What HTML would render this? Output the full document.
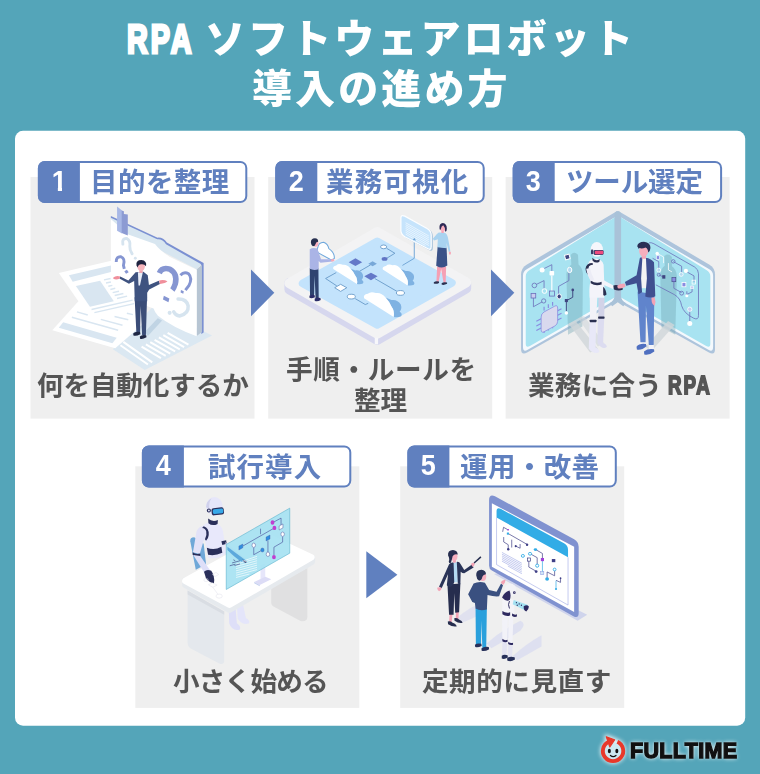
<!DOCTYPE html>
<html lang="ja">
<head>
<meta charset="utf-8">
<title>RPA ソフトウェアロボット 導入の進め方</title>
<style>
html,body{margin:0;padding:0;}
body{width:760px;height:774px;overflow:hidden;background:#54a5b9;position:relative;
 font-family:"Liberation Sans","Noto Sans CJK JP",sans-serif;}
.abs{position:absolute;}
.title,.lbl,.cap,.logo{will-change:transform;}
.title{position:absolute;color:#fff;font-weight:900;font-size:40px;line-height:49px;white-space:nowrap;letter-spacing:3.1px;}
.rpa{position:absolute;color:#fff;font-weight:700;font-size:40px;line-height:49px;white-space:nowrap;letter-spacing:4px;transform:scaleX(.72);transform-origin:left center;-webkit-text-stroke:3px #fff;}
.num{position:absolute;width:42px;height:42.4px;color:#fff;font-weight:700;font-size:30px;line-height:40.2px;text-align:center;}
.num span{display:inline-block;transform:scaleX(.9);}
.num span.one{clip-path:polygon(0 0,100% 0,100% 27.2px,11.3px 27.2px,11.3px 100%,6.7px 100%,6.7px 27.2px,0 27.2px);}
.lbl{position:absolute;color:#6080bf;font-weight:700;font-size:27.5px;line-height:40px;white-space:nowrap;}
.cap{position:absolute;color:#555555;font-weight:700;font-size:26.6px;line-height:40px;white-space:nowrap;}
.rpa2{position:absolute;color:#555555;font-weight:700;font-size:26px;line-height:40px;white-space:nowrap;letter-spacing:2.6px;transform:scaleX(.72);transform-origin:left center;-webkit-text-stroke:1.9px #555555;}
.ill{position:absolute;left:0;top:0;width:760px;height:774px;overflow:visible;}
.logo{position:absolute;left:630px;top:738.5px;color:#111;font-weight:700;font-size:21.5px;line-height:25px;white-space:nowrap;letter-spacing:.35px;-webkit-text-stroke:1.3px #111;text-shadow:0 0 2px rgba(255,255,255,.9),0 0 4px rgba(255,255,255,.8),0 0 5px rgba(255,255,255,.6);}
</style>
</head>
<body>
<div class="rpa" style="left:127px;top:15px">RPA</div>
<div class="title" style="left:205px;top:15px">ソフトウェアロボット</div>
<div class="title" style="left:252px;top:65px">導入の進め方</div>

<svg class="ill" viewBox="0 0 760 774">
<rect x="15" y="130.8" width="730.2" height="594.9" rx="8" fill="#fff"/>
<rect x="30.5" y="177" width="224" height="241.6" fill="#efefef"/>
<rect x="268.2" y="177" width="224" height="241.6" fill="#efefef"/>
<rect x="505.6" y="177" width="224" height="241.6" fill="#efefef"/>
<rect x="135.3" y="466.3" width="224" height="241.6" fill="#efefef"/>
<rect x="400.2" y="466.3" width="224" height="241.6" fill="#efefef"/>
<g id="ill1">
<!-- bottom right light blue page : zoom C origin(110,290) s=6.909 -->
<g transform="translate(110,290) scale(0.144737)">
<polygon points="20,410 300,110 705,315 240,552" fill="#dbe8f2"/>
<g stroke="#fff" stroke-width="14" fill="none">
<path d="M92,358 L292,500 M72,382 L262,515 M218,392 L352,470 M248,376 L385,455 M278,360 L416,440 M308,344 L450,424 M338,328 L482,410 M368,312 L512,394 M398,296 L542,378"/>
</g>
</g>
<!-- panel : zoom D origin(100,200) s=6.909 -->
<g transform="translate(100,200) scale(0.144737)">
<path d="M75,110 L398,260 Q435,256 462,294 L716,436 L716,915 L700,925 L700,452 L456,312 Q432,274 395,278 L75,128 Z" fill="#7b90d2"/>
<polygon points="668,478 704,448 704,912 668,940" fill="#b7c5d3"/>
<path d="M75,122 L395,272 Q432,268 456,306 L700,444 L668,478 L380,330 L75,180 Z" fill="#d8e6f0"/>
<path d="M75,132 L195,238 L380,304 Q410,345 480,392 L668,482 L668,942 Q500,880 400,800 Q380,780 370,750 L75,640 Z" fill="#fff"/>
<!-- bookmark -->
<polygon points="118,45 152,72 152,232 118,212" fill="#a8b8e6"/>
<polygon points="150,72 165,78 165,96 192,100 192,246 150,228" fill="#8c9bd3"/>
</g>
<!-- papers : zoom B origin(40,255) s=6.909 -->
<g transform="translate(40,255) scale(0.144737)">
<polygon points="130,125 500,38 720,360 372,420 265,320" fill="#fff"/>
<polygon points="85,520 265,320 700,372 720,470 520,645" fill="#fff"/>
<polygon points="200,140 490,72 490,118 226,184" fill="#d9e6f1"/>
<polygon points="248,215 415,178 510,320 345,358" fill="#d9e6f1"/>
<g stroke="#d9e6f1" stroke-width="10" fill="none">
<path d="M442,172 L488,162 M456,194 L490,186 M472,216 L500,210 M486,238 L520,230 M502,260 L546,250 M516,280 L576,266 M532,300 L602,284"/>
<path d="M356,376 L640,312 M376,398 L650,336"/>
<path d="M255,393 L330,415 M515,425 L610,447 M600,402 L642,412 M220,430 L540,520 M420,445 L570,485"/>
</g>
<polygon points="160,465 530,572 500,610 130,502" fill="#d9e6f1"/>
</g>
<!-- question marks : zoom D -->
<g transform="translate(100,200) scale(0.144737)">
<g fill="none" stroke="#d6e4ef" stroke-width="20" stroke-linecap="round">
<path d="M158,305 Q150,262 185,266 Q212,280 206,320 Q204,345 222,372"/>
</g>
<circle cx="244" cy="402" r="10" fill="#d6e4ef"/>
<g fill="none" stroke="#8696d2">
<path d="M112,428 Q112,388 145,392 Q176,404 162,452 L168,476" stroke-width="20"/>
<path d="M410,505 Q428,462 482,478 Q538,510 520,580 Q510,610 500,622" stroke-width="38"/>
<path d="M556,520 Q580,492 612,510 Q640,540 615,590 L590,622" stroke-width="20"/>
</g>
<polygon points="168,492 186,482 198,500 180,510" fill="#8696d2"/>
</g>
<g transform="translate(110,290) scale(0.144737)">
<polygon points="372,40 410,58 404,84 366,66" fill="#8696d2"/>
<polygon points="490,0 510,8 506,26 488,18" fill="#8696d2"/>
<path d="M470,62 Q530,60 540,110 Q545,165 480,180 Q455,178 440,150" fill="none" stroke="#d6e4ef" stroke-width="24" stroke-linecap="round"/>
<circle cx="412" cy="158" r="14" fill="#d6e4ef"/>
<!-- man shadow -->
<polygon points="240,290 330,195 360,210 262,318" fill="#b9cee0" opacity=".8"/>
<!-- legs -->
<path d="M170,50 L182,290 L208,290 L212,110 L222,312 L248,312 L256,50 Z" fill="#3b4d78"/>
<path d="M160,300 Q172,284 208,290 L210,306 Q178,322 162,314 Z" fill="#1f2744"/>
<path d="M206,322 Q218,306 250,312 L252,326 Q222,344 208,336 Z" fill="#1f2744"/>
</g>
<!-- man upper : zoom D -->
<g transform="translate(100,200) scale(0.144737)">
<path d="M140,528 L196,556 L246,500 L300,496 L330,520 L338,588 L406,558 L414,580 L340,618 L326,640 L326,700 L240,700 L236,560 L200,578 L134,542 Z" fill="#3f5380"/>
<polygon points="262,500 296,500 276,590 266,590" fill="#e9eef8"/>
<path d="M92,536 Q110,518 140,528 L134,544 Q112,554 92,544 Z" fill="#f08f9b"/>
<path d="M408,556 Q440,546 466,562 Q452,578 414,580 Z" fill="#f08f9b"/>
<rect x="272" y="480" width="22" height="24" fill="#f3a4ae"/>
<ellipse cx="284" cy="460" rx="26" ry="32" fill="#f7b5bd"/>
<path d="M252,452 Q246,414 286,414 Q326,418 318,458 Q306,440 284,444 Q266,444 260,466 Z" fill="#1f2440"/>
</g>
</g>
<g id="ill2">
<!-- zoom Z2 origin(275,205) s=3.619 -->
<g transform="translate(275,205) scale(0.276316)">
<path d="M52,306 L370,488 L692,302 L692,282 L52,282 Z" fill="#d6d7ee" stroke="#d6d7ee" stroke-width="36" stroke-linejoin="round"/>
<path d="M52,283 L370,98 L692,280 L370,466 Z" fill="#f3f3f4" stroke="#f3f3f4" stroke-width="36" stroke-linejoin="round"/>
<rect x="361" y="480" width="12" height="24" fill="#f7f7fa"/>
<path d="M100,284 L370,132 L640,282 L370,434 Z" fill="#c3e3fc" stroke="#c3e3fc" stroke-width="28" stroke-linejoin="round"/>
</g>
<!-- flow: zoom origin(325,240) s=8.444 -->
<g transform="translate(325,240) scale(0.118427)">
<g fill="none" stroke="#5f93c4" stroke-width="7">
<path d="M520,70 L590,112 L520,155"/>
<path d="M290,265 L385,210"/>
<path d="M95,275 L5,325 L100,388"/>
<path d="M420,325 L610,435"/>
<path d="M255,495 L340,545 L365,535"/>
</g>
<ellipse cx="495" cy="58" rx="26" ry="16" fill="#fff" stroke="#5f93c4" stroke-width="7"/>
<ellipse cx="222" cy="478" rx="34" ry="20" fill="#fff" stroke="#5f93c4" stroke-width="7"/>
<ellipse cx="637" cy="447" rx="34" ry="20" fill="#fff" stroke="#5f93c4" stroke-width="7"/>
<ellipse cx="503" cy="160" rx="25" ry="16" fill="#6074c4"/>
<polygon points="82,403 132,374 184,403 132,434" fill="#fff" stroke="#5f93c4" stroke-width="7"/>
<polygon points="200,187 257,155 314,187 257,220" fill="#6478c8"/>
<polygon points="332,307 388,276 444,307 388,340" fill="#6478c8"/>
<polygon points="366,200 402,180 438,200 402,222" fill="#78a8d8"/>
<g transform="translate(70,245)">
<path d="M145,-5 Q165,2 185,12 Q225,5 248,42 Q258,72 240,90 Q262,105 250,122 Q230,132 200,127 Q208,85 185,55 Z" fill="#7fb2e2"/>
<path d="M0,0 Q-8,-25 25,-30 Q45,-50 80,-35 Q115,-42 145,-5 Q172,22 185,55 Q208,85 200,127 Z" fill="#fff"/>
</g>
<g transform="translate(488,250) scale(1.05)">
<path d="M145,-5 Q165,2 185,12 Q225,5 248,42 Q258,72 240,90 Q262,105 250,122 Q230,132 200,127 Q208,85 185,55 Z" fill="#7fb2e2"/>
<path d="M0,0 Q-8,-25 25,-30 Q45,-50 80,-35 Q115,-42 145,-5 Q172,22 185,55 Q208,85 200,127 Z" fill="#fff"/>
</g>
<g transform="translate(330,492) scale(1.25)">
<path d="M145,-5 Q165,2 185,12 Q225,5 248,42 Q258,72 240,90 Q262,105 250,122 Q230,132 200,127 Q208,85 185,55 Z" fill="#7fb2e2"/>
<path d="M0,0 Q-8,-25 25,-30 Q45,-50 80,-35 Q115,-42 145,-5 Q172,22 185,55 Q208,85 200,127 Z" fill="#fff"/>
</g>
</g>
<!-- speech panel + woman: zoom origin(390,205) s=8.444 -->
<g transform="translate(390,205) scale(0.118427)">
<path d="M205,285 L205,450 L105,510" fill="none" stroke="#6fa4d6" stroke-width="8"/>
<path d="M100,120 Q98,82 135,100 L325,205 Q362,225 362,262 L362,360 Q362,398 328,380 L135,278 Q100,258 100,222 Z" fill="#a9c4dc"/>
<path d="M92,114 Q90,78 125,94 L313,198 Q348,218 348,254 L348,350 Q348,386 316,368 L125,268 Q92,248 92,214 Z" fill="#c6e4fc" stroke="#fdfeff" stroke-width="10"/>
<g stroke="#fff" stroke-width="5" fill="none"><path d="M132,150 L328,262 M132,166 L328,278 M132,182 L328,294 M132,198 L328,310 M132,214 L328,326 M132,230 L328,342 M132,246 L300,342"/></g>
<polygon points="192,296 205,276 220,300" fill="#6fa4d6"/>
<!-- woman -->
<path d="M398,520 L392,648 L410,650 L432,540 L452,655 L470,658 L474,520 Z" fill="#f5a0b4"/>
<path d="M370,652 Q384,640 414,646 L414,658 Q388,670 370,662 Z" fill="#2b3050"/>
<path d="M436,660 Q450,648 482,654 L482,666 Q454,680 436,672 Z" fill="#2b3050"/>
<path d="M402,352 L478,362 L484,510 Q440,545 390,512 Z" fill="#3a5288"/>
<path d="M412,232 L462,234 Q486,244 492,290 L510,392 L496,396 L478,320 L480,366 L400,356 L404,290 L372,300 L362,284 L396,244 Z" fill="#a9d3f0"/>
<ellipse cx="506" cy="406" rx="9" ry="14" fill="#f7a8b8"/>
<rect x="434" y="212" width="20" height="24" fill="#f5a0b4"/>
<ellipse cx="446" cy="192" rx="24" ry="30" fill="#f9b0c0"/>
<path d="M418,196 Q414,156 446,152 Q480,156 480,200 Q480,224 466,226 Q468,190 450,172 Q434,176 428,206 Q420,216 418,196 Z" fill="#2e2a55"/>
</g>
<!-- man: zoom origin(275,215) s=6.909 -->
<g transform="translate(275,215) scale(0.144737)">
<path d="M240,368 L242,556 L270,560 L274,420 L280,574 L302,578 L300,368 Z" fill="#2f4470"/>
<path d="M238,558 Q250,546 274,554 L276,568 Q252,580 238,572 Z" fill="#2b2d6a"/>
<path d="M274,578 Q288,566 314,574 L316,588 Q290,602 274,592 Z" fill="#2b2d6a"/>
<path d="M296,225 Q300,190 336,188 Q366,200 372,232 Q412,258 410,300 Q400,312 380,306 L300,262 Q286,246 296,225 Z" fill="#fff" stroke="#6fa8dc" stroke-width="7"/>
<path d="M240,236 Q262,222 292,232 L318,306 L396,306 L398,322 L314,330 L302,318 L302,374 Q268,386 240,372 Z" fill="#aab4e6"/>
<ellipse cx="398" cy="313" rx="11" ry="9" fill="#f7a8b8"/>
<ellipse cx="280" cy="196" rx="20" ry="24" fill="#f9b0c0"/>
<path d="M248,192 Q246,160 276,160 Q300,162 298,184 Q284,184 280,200 Q278,216 262,216 Q250,210 248,192 Z" fill="#27304f"/>
</g>
</g>
<g id="ill3">
<!-- screens: zoom Z3 origin(510,205) s=3.619 -->
<g transform="translate(510,205) scale(0.276316)">
<!-- left screen -->
<path d="M40,252 Q40,228 60,216 L388,22 L388,350 L62,534 Q40,546 40,520 Z" fill="#adc4dc"/>
<path d="M47,256 Q47,240 62,232 L384,42 L384,342 L64,524 Q47,534 47,514 Z" fill="#f4f9fd"/>
<path d="M57,258 Q57,244 70,236 L380,44 L380,334 L72,510 Q57,518 57,502 Z" fill="#a8e3f1"/>
<!-- right screen -->
<path d="M742,252 Q742,228 722,216 L392,22 L392,350 L720,534 Q742,546 742,520 Z" fill="#adc4dc"/>
<path d="M735,256 Q735,240 720,232 L396,42 L396,342 L718,524 Q735,534 735,514 Z" fill="#f4f9fd"/>
<path d="M725,258 Q725,244 712,236 L400,44 L400,334 L710,510 Q725,518 725,502 Z" fill="#a8e3f1"/>
<!-- spine -->
<path d="M378,30 Q390,14 402,30 L402,330 Q402,345 420,356 L410,366 Q390,352 390,352 Q390,352 370,366 L360,356 Q378,345 378,330 Z" fill="#a9c2d8"/>
<!-- shadows on screens -->
<path d="M220,180 Q232,165 246,180 L248,215 Q262,225 264,250 L262,440 L210,470 L204,250 Q206,228 222,215 Z" fill="#6fa3b0" opacity=".38"/>
<path d="M558,185 Q572,172 586,188 L586,222 Q602,232 604,258 L598,470 L548,442 L544,250 Q546,230 560,220 Z" fill="#6fa3b0" opacity=".38"/>
<!-- floor shadows -->
<polygon points="212,430 236,418 318,520 290,534" fill="#cfd6da" opacity=".8"/>
<polygon points="248,412 268,402 340,500 318,512" fill="#cfd6da" opacity=".6"/>
<polygon points="572,420 596,434 512,528 490,514" fill="#cfd6da" opacity=".8"/>
</g>
<!-- left circuits: zoom origin(515,205) s=5.16 -->
<g transform="translate(515,205) scale(0.193798)">
<g fill="none" stroke="#6a6cb8" stroke-width="4">
<path d="M150,328 L190,308 L190,340"/>
<path d="M110,410 L150,390 L150,432"/>
<path d="M95,480 L95,525 L140,500"/>
<path d="M278,348 L278,390 L225,420 L225,462"/>
</g>
<path d="M190,364 L190,446" stroke="#fff" stroke-width="6" fill="none"/>
<path d="M298,440 L298,476 L265,494 L265,548" stroke="#3f4580" stroke-width="5" fill="none"/>
<circle cx="140" cy="335" r="13" fill="#fff"/>
<rect x="178" y="340" width="24" height="24" rx="4" fill="#fff"/>
<rect x="178" y="444" width="26" height="26" fill="none" stroke="#6a6cb8" stroke-width="4"/>
<circle cx="100" cy="415" r="12" fill="none" stroke="#6a6cb8" stroke-width="4"/>
<circle cx="152" cy="444" r="12" fill="none" stroke="#fff" stroke-width="5"/>
<rect x="83" y="456" width="24" height="24" fill="#c9cdf0" stroke="#6a6cb8" stroke-width="4"/>
<circle cx="148" cy="495" r="11" fill="none" stroke="#6a6cb8" stroke-width="4"/>
<rect x="258" y="256" width="24" height="24" fill="#3f4580" stroke="#fff" stroke-width="5" transform="rotate(-15 270 268)"/>
<ellipse cx="282" cy="335" rx="11" ry="14" fill="#b5d9f0" stroke="#fff" stroke-width="5"/>
<ellipse cx="228" cy="472" rx="11" ry="13" fill="#3f4580" stroke="#fff" stroke-width="5"/>
<circle cx="298" cy="438" r="7" fill="#3f4580"/>
<rect x="257" y="485" width="16" height="16" fill="#3f4580"/>
<circle cx="265" cy="557" r="9" fill="#fff"/>
<!-- chip -->
<g stroke="#8a8ce0" stroke-width="6" fill="none">
<path d="M150,545 L150,525 M172,532 L172,512 M194,520 L194,500 M215,548 L240,535 M215,572 L240,559 M215,596 L240,583 M110,600 L135,587 M110,624 L135,611 M110,648 L135,635 M150,660 L150,640 M172,648 L172,628 M194,636 L194,616"/>
</g>
<path d="M135,578 Q135,560 150,552 L205,522 Q220,514 220,532 L220,600 Q220,616 206,624 L150,654 Q135,662 135,644 Z" fill="#d9d9ee" stroke="#8a8ce0" stroke-width="4"/>
</g>
<!-- right circuits: zoom origin(620,205) s=5.16 -->
<g transform="translate(620,205) scale(0.193798)">
<g fill="none" stroke="#6a6cb8" stroke-width="4">
<path d="M150,195 Q160,192 175,200 L385,320 Q405,332 405,355 L405,570 Q405,596 380,584 Q330,560 318,520 Q312,480 280,462 L185,412"/>
<path d="M275,292 L318,316 L318,350"/>
<path d="M345,345 L382,366 L382,395"/>
<path d="M200,360 L232,376 M278,390 L278,430 L318,452"/>
<path d="M345,445 L345,468 M372,428 L372,448 L345,462"/>
<path d="M360,545 L360,600"/>
<path d="M168,275 L200,292 L200,330"/>
</g>
<g fill="none" stroke="#fff" stroke-width="4">
<path d="M192,250 L225,268 L225,300 M250,300 L250,335 L268,345"/>
</g>
<circle cx="192" cy="250" r="9" fill="#fff"/>
<circle cx="340" cy="340" r="11" fill="#fff"/>
<circle cx="345" cy="468" r="8" fill="#fff"/>
<circle cx="360" cy="612" r="13" fill="#fff"/>
<circle cx="275" cy="291" r="9" fill="none" stroke="#6a6cb8" stroke-width="4"/>
<circle cx="316" cy="358" r="10" fill="#b5d9f0" stroke="#fff" stroke-width="4"/>
<circle cx="200" cy="336" r="10" fill="#b5d9f0" stroke="#fff" stroke-width="4"/>
<circle cx="200" cy="360" r="8" fill="none" stroke="#6a6cb8" stroke-width="4"/>
<circle cx="318" cy="455" r="10" fill="none" stroke="#6a6cb8" stroke-width="4"/>
<circle cx="360" cy="538" r="11" fill="#c9cdf0" stroke="#fff" stroke-width="4"/>
<rect x="268" y="374" width="20" height="22" fill="#8a8ce0" stroke="#3f4580" stroke-width="3"/>
<rect x="320" y="400" width="20" height="22" fill="#8a8ce0" stroke="#fff" stroke-width="4"/>
<rect x="372" y="388" width="18" height="20" fill="none" stroke="#fff" stroke-width="4"/>
<rect x="188" y="262" width="16" height="18" fill="#8a8ce0" stroke="#fff" stroke-width="3"/>
<rect x="218" y="362" width="16" height="18" fill="#3f4580"/>
<rect x="365" y="418" width="14" height="14" fill="#c9cdf0" stroke="#fff" stroke-width="3"/>
</g>
<!-- figures: zoom origin(570,230) s=6.19 -->
<g transform="translate(570,230) scale(0.161551)">
<!-- robot -->
<path d="M176,420 L176,540 L212,538 L214,420 Z" fill="#d2d3e8"/>
<path d="M172,545 L170,700 Q200,745 228,725 Q226,705 205,700 L212,545 Z" fill="#dcdcf0"/>
<path d="M122,400 L124,560 L162,562 L170,400 Z" fill="#f2f2f8"/>
<path d="M122,570 L116,735 Q150,775 182,755 Q180,735 158,728 L162,570 Z" fill="#e8e8f8"/>
<rect x="122" y="555" width="42" height="16" rx="4" fill="#2a2f50"/>
<rect x="174" y="535" width="40" height="14" rx="4" fill="#2a2f50"/>
<path d="M112,210 Q120,178 160,176 Q200,180 208,215 L212,330 Q216,380 212,420 L122,420 Q116,360 126,320 Z" fill="#f4f4fa"/>
<path d="M128,312 Q160,335 196,320 L198,336 Q160,350 128,330 Z" fill="#2a2f50"/>
<path d="M140,205 Q100,205 96,240 Q98,268 116,280 L122,270 Q108,245 118,225 Q128,214 142,216 Z" fill="#2a2f50"/>
<path d="M100,240 Q110,290 130,318 L150,306 Q130,270 124,236 Z" fill="#ececf6"/>
<path d="M198,305 L272,345 L266,365 L196,335 Z" fill="#f4f4fa"/>
<path d="M205,352 Q222,365 226,400 Q214,412 206,402 Z" fill="#2a2f50"/>
<path d="M268,344 Q290,336 312,350 Q330,356 326,370 Q300,380 272,368 Z" fill="#2a2f50"/>
<path d="M138,172 Q160,198 184,180 L182,196 Q160,210 140,190 Z" fill="#2a2f50"/>
<ellipse cx="166" cy="120" rx="38" ry="46" fill="#f6f6fb"/>
<rect x="146" y="124" width="62" height="30" rx="8" fill="#3a3f6a"/>
<rect x="154" y="128" width="52" height="22" rx="6" fill="#ee4a7e"/>
<rect x="130" y="120" width="14" height="30" rx="5" fill="#3a3f6a"/>
<!-- man -->
<path d="M428,690 L432,720 L470,718 L466,690 Z M486,705 L488,740 L520,738 L518,705 Z" fill="#f4f4f8"/>
<path d="M412,722 Q430,700 470,706 L474,720 Q440,748 414,740 Z" fill="#4f6fc0"/>
<path d="M458,752 Q480,732 520,738 L522,752 Q490,778 460,770 Z" fill="#4f6fc0"/>
<path d="M418,380 L436,695 L468,695 L470,470 L488,712 L518,712 L522,400 Z" fill="#6084cc"/>
<path d="M440,170 L478,170 L478,360 L440,360 Z" fill="#f4f4f4"/>
<path d="M340,322 L412,280 L432,175 Q440,165 448,172 L440,300 L446,385 L424,398 L412,330 L348,345 Z" fill="#3f4f90"/>
<path d="M470,172 Q500,176 520,200 L528,410 Q500,425 466,412 L476,300 Z" fill="#3f4f90"/>
<path d="M292,345 Q312,330 340,332 L344,350 Q320,366 296,360 Z" fill="#f3a3b5"/>
<path d="M504,420 L524,416 Q534,445 524,470 Q510,462 506,445 Z" fill="#f3a3b5"/>
<rect x="444" y="150" width="26" height="28" fill="#f3a3b5"/>
<ellipse cx="456" cy="130" rx="28" ry="36" fill="#f5aebd"/>
<path d="M416,100 Q420,72 458,72 Q500,78 498,112 Q496,135 484,140 Q484,116 468,108 Q446,118 430,112 Q424,122 422,110 Z" fill="#2a2f55"/>
</g>
</g>
<g id="ill4">
<!-- desk: zoom origin(165,490) s=4.425 -->
<g transform="translate(165,490) scale(0.225989)">
<!-- right leg slab -->
<path d="M470,430 L630,345 L630,560 Q630,585 600,580 L480,515 Q468,508 470,490 Z" fill="#e0e0e1"/>
<!-- feet -->
<path d="M282,520 L284,590 Q296,625 330,618 Q340,606 318,590 L312,520 Z" fill="#dedff8"/>
<path d="M318,510 L322,570 Q340,600 372,590 Q378,578 358,566 L346,510 Z" fill="#e4e5fa"/>
<!-- left leg slab -->
<path d="M100,445 L262,538 L262,760 Q258,775 240,768 L112,700 Q100,692 100,676 Z" fill="#e4e8ed"/>
<path d="M100,445 L262,538 L262,552 L100,462 Z" fill="#d9dde3"/>
<!-- desk top edge + top -->
<path d="M90,420 L285,530 L650,318 L650,300 L90,400 Z" fill="#e6eaee" stroke="#e6eaee" stroke-width="28" stroke-linejoin="round"/>
<path d="M90,402 L450,205 L648,298 L285,508 Z" fill="#fff" stroke="#fff" stroke-width="28" stroke-linejoin="round"/>
</g>
<!-- robot + monitor: zoom origin(180,490) s=6.333 -->
<g transform="translate(180,490) scale(0.157895)">
<!-- chair -->
<path d="M65,325 Q62,300 90,300 L150,340 L165,470 L100,505 Z" fill="#6fa8d8"/>
<!-- torso -->
<path d="M135,245 Q150,205 205,205 Q262,215 272,260 L292,400 Q250,440 180,430 L160,330 Z" fill="#e8e8fb"/>
<path d="M170,365 Q215,385 262,360 L268,398 Q220,420 178,410 Z" fill="#2a2f5a"/>
<path d="M262,325 L292,318 L296,340 L268,348 Z" fill="#2a2f5a"/>
<!-- right arm through screen -->
<path d="M285,330 L420,440 L400,460 L300,380 Z" fill="#c9cdf0"/>
<!-- left arm -->
<path d="M150,228 Q120,228 105,262 L82,395 L125,405 L150,320 Q190,290 178,245 Q170,230 150,228 Z" fill="#e2e2f8"/>
<path d="M150,230 Q185,240 182,285 Q180,310 165,322 L158,312 Q172,290 166,262 Q160,242 140,240 Z" fill="#2a2f5a"/>
<path d="M80,395 Q100,410 128,402 L130,416 Q102,426 80,410 Z" fill="#2a2f5a"/>
<path d="M84,412 L128,418 L195,515 L155,525 Z" fill="#dedff8"/>
<path d="M152,518 Q170,500 198,512 Q222,545 215,590 Q190,588 165,560 Z" fill="#2a2f5a"/>
<!-- neck/head -->
<path d="M178,180 Q205,205 240,190 L238,215 Q205,232 180,210 Z" fill="#2a2f5a"/>
<ellipse cx="218" cy="104" rx="52" ry="60" fill="#e6e6fa"/>
<path d="M165,110 Q165,70 200,52 Q180,80 186,120 Z" fill="#d0d1ec"/>
<rect x="200" y="112" width="78" height="46" rx="14" fill="#2a2f5a" transform="rotate(-6 240 135)"/>
<rect x="208" y="120" width="66" height="30" rx="10" fill="#38a8e8" transform="rotate(-6 240 135)"/>
<circle cx="183" cy="130" r="13" fill="#2a2f5a"/><circle cx="183" cy="130" r="6" fill="#e6e6fa"/>
<!-- desk icons -->
<g fill="none" stroke="#e0e0ea" stroke-width="3">
<polygon points="205,535 228,522 245,535 222,548"/>
<polygon points="180,600 205,588 235,602 208,616"/>
<path d="M208,616 L240,660"/>
<ellipse cx="248" cy="672" rx="20" ry="13"/>
<ellipse cx="165" cy="570" rx="14" ry="10"/>
</g>
<!-- monitor stand -->
<path d="M510,475 L540,465 L540,570 L510,580 Z" fill="#e6e6fa"/>
<path d="M470,582 L540,550 L578,566 L505,602 Z" fill="#dcdcf6"/>
<path d="M470,582 L505,602 L505,610 L470,590 Z" fill="#c4d0ee"/>
<!-- screen -->
<path d="M293,345 L695,115 L695,400 L293,630 Z" fill="#a6e2f2" fill-opacity=".92" stroke="#62b6cf" stroke-width="4"/>
<path d="M300,360 L420,448 Q430,460 410,462 L390,455 Q350,430 300,380 Z" fill="#4f9fd8" opacity=".85"/>
<path d="M395,440 L425,455 L412,462 Z" fill="#2a2f5a"/>
<g fill="none" stroke="#4a4f9a" stroke-width="4">
<path d="M398,355 L590,245"/>
<path d="M510,245 L510,280"/>
<path d="M590,205 L640,178 L640,222"/>
<path d="M467,365 L467,410 L512,385"/>
<path d="M557,320 L557,395"/>
<path d="M650,295 L650,330 L595,362 L595,412"/>
</g>
<g fill="#fff" stroke="#4a4f9a" stroke-width="3">
<ellipse cx="467" cy="350" rx="11" ry="14"/>
<ellipse cx="650" cy="280" rx="11" ry="14"/>
<ellipse cx="557" cy="407" rx="11" ry="14"/>
<polygon points="628,228 652,215 652,240 628,253"/>
</g>
<g fill="#c03ed0"><ellipse cx="586" cy="206" rx="12" ry="14"/><ellipse cx="598" cy="240" rx="12" ry="14"/><ellipse cx="595" cy="425" rx="12" ry="14"/></g>
<g fill="#2f8fe0" stroke="#4a4f9a" stroke-width="2"><polygon points="373,355 398,342 398,366 373,380"/><polygon points="545,298 570,285 570,310 545,323"/><ellipse cx="522" cy="380" rx="11" ry="13"/></g>
<g stroke="#fff" stroke-width="4" fill="none">
<path d="M392,452 L488,420 M355,470 L488,434 M355,484 L488,448 M355,498 L488,462 M355,512 L488,476 M355,526 L488,490 M355,540 L488,504 M355,554 L440,532"/>
</g>
<g stroke="#3a3f80" stroke-width="4" fill="none"><path d="M315,480 L350,470 M330,462 L380,448 M345,478 L380,468 M338,442 L350,448"/></g>
</g>
</g>
<g id="ill5">
<!-- screen: zoom origin(480,490) s=5.736 -->
<g transform="translate(480,490) scale(0.174338)">
<polygon points="80,482 130,470 615,715 560,750" fill="#cfd4ec"/>
<path d="M52,58 Q52,22 86,36 L540,282 Q566,296 566,326 L566,706 Q566,740 536,724 L68,462 Q52,452 52,434 Z" fill="#8092d0"/>
<path d="M68,76 L540,326 L540,700 L68,440 Z" fill="#fff"/>
<path d="M95,122 Q95,96 118,108 L482,306 Q505,318 505,344 L505,386 L95,158 Z" fill="#32ace6"/>
<path d="M95,158 L95,428 L505,660 L505,386" fill="none" stroke="#8f9be0" stroke-width="3"/>
<!-- circuits -->
<g fill="none" stroke="#3f3f86" stroke-width="4">
<path d="M160,228 L135,214 L130,240"/>
<path d="M162,250 L270,312"/>
<path d="M136,270 L136,298 L162,314 L162,338"/>
<path d="M182,285 L182,330"/>
<path d="M205,322 L230,334 L230,310"/>
<path d="M320,342 L358,364 L358,398"/>
<path d="M288,366 L328,388 L328,430"/>
<path d="M280,402 L280,442 L322,466"/>
<path d="M428,460 L428,492 L385,470 L385,505"/>
<path d="M462,505 L462,530 L436,518"/>
</g>
<g fill="none" stroke="#32ace6" stroke-width="4"><path d="M358,400 L358,478 M436,520 L436,566"/></g>
<g fill="#fff" stroke="#32ace6" stroke-width="5">
<ellipse cx="246" cy="378" rx="9" ry="8"/><ellipse cx="287" cy="366" rx="9" ry="8"/><ellipse cx="328" cy="434" rx="9" ry="9"/><ellipse cx="428" cy="456" rx="8" ry="8"/>
</g>
<g fill="#32ace6"><ellipse cx="318" cy="342" rx="10" ry="8"/><ellipse cx="385" cy="510" rx="11" ry="10"/><circle cx="436" cy="568" r="6"/><rect x="154" y="244" width="12" height="12"/></g>
<g fill="#3f3f86"><circle cx="162" cy="340" r="7"/><circle cx="322" cy="468" r="8"/><circle cx="270" cy="314" r="7"/><rect x="412" y="396" width="20" height="18"/><circle cx="205" cy="322" r="6"/><circle cx="462" cy="506" r="5"/></g>
<rect x="349" y="390" width="18" height="18" fill="#a040d8"/>
<rect x="156" y="224" width="10" height="8" fill="#a040d8"/>
<rect x="272" y="390" width="18" height="18" fill="#fff" stroke="#3f3f86" stroke-width="4"/>
<rect x="348" y="468" width="18" height="18" fill="#cfe6f6" stroke="#8f9be0" stroke-width="3"/>
<g stroke="#8f9be0" stroke-width="3" fill="none">
<path d="M126,358 L240,420 M126,368 L240,430 M126,378 L240,440 M126,388 L240,450 M126,398 L240,460 M126,408 L240,470 M160,436 L240,480"/>
</g>
</g>
<!-- figures: zoom origin(430,540) s=6.19 -->
<g transform="translate(430,540) scale(0.161551)">
<!-- floor shadows -->
<path d="M170,480 Q240,420 300,400 L330,450 Q260,490 200,510 Z" fill="#dadcf0" opacity=".7"/>
<path d="M350,640 Q440,560 560,500 Q600,520 560,560 Q470,620 380,670 Z" fill="#dadcf0" opacity=".8"/>
<path d="M510,720 Q600,640 690,590 L690,660 Q620,700 540,745 Z" fill="#dadcf0" opacity=".8"/>
<!-- woman -->
<path d="M122,450 L118,505 L134,510 L140,450 Z M160,440 L160,490 L176,492 L178,440 Z" fill="#f3a3b5"/>
<path d="M110,505 Q125,500 140,512 Q165,522 165,535 Q140,540 112,522 Z" fill="#262d4e"/>
<path d="M150,485 Q165,480 180,492 Q200,500 202,512 Q180,518 152,500 Z" fill="#262d4e"/>
<path d="M108,275 L118,462 L146,462 L150,330 L156,450 L180,448 L188,270 Z" fill="#262d4e"/>
<path d="M140,138 L168,138 L172,262 L146,262 Z" fill="#b5daf2"/>
<path d="M118,150 Q130,136 146,140 L150,262 Q140,290 120,292 L104,280 L112,210 L72,298 L56,290 Z" fill="#2a3458"/>
<path d="M166,136 Q180,132 190,150 L212,185 L260,152 L270,170 L212,206 Q200,206 190,196 L188,272 Q180,280 172,268 Z" fill="#2a3458"/>
<path d="M44,296 Q56,288 72,296 Q72,312 56,318 Q46,312 44,296 Z" fill="#f3a3b5"/>
<path d="M254,148 Q266,136 278,146 Q276,162 262,166 Z" fill="#f3a3b5"/>
<path d="M270,140 L312,100 L318,108 L276,146 Z" fill="#262d4e"/>
<rect x="142" y="118" width="18" height="22" fill="#f3a3b5"/>
<ellipse cx="148" cy="100" rx="22" ry="28" fill="#f7b0c0"/>
<path d="M112,96 Q108,64 142,62 Q170,64 172,90 Q150,84 140,100 Q136,120 130,140 Q118,150 116,132 Q124,120 112,96 Z" fill="#262d4e"/>
<!-- man -->
<path d="M282,420 L284,648 L316,650 L318,500 L324,668 L348,672 L352,420 Z" fill="#2aa0dc"/>
<path d="M278,648 Q292,636 318,642 L320,656 Q296,668 280,662 Z" fill="#27305a"/>
<path d="M318,672 Q334,656 364,662 L366,676 Q340,692 320,686 Z" fill="#27305a"/>
<path d="M270,270 Q300,254 340,264 L366,310 L412,320 L440,270 L452,280 L428,348 Q400,352 356,340 L352,430 Q310,442 282,424 L278,390 L262,384 L236,336 Z" fill="#3a5080"/>
<path d="M438,262 Q448,244 468,246 Q466,266 452,278 Z" fill="#f3a3b5"/>
<ellipse cx="326" cy="226" rx="22" ry="28" fill="#f7b0c0"/>
<path d="M286,218 Q284,186 318,184 Q348,188 346,212 Q330,212 324,228 Q322,250 304,252 Q288,242 286,218 Z" fill="#2a3458"/>
<!-- robot -->
<path d="M446,470 L448,620 L478,625 L482,470 Z M486,475 L484,640 L510,645 L516,475 Z" fill="#f2f2f8"/>
<path d="M448,625 L446,715 L474,720 L478,630 Z M484,645 L482,725 L508,730 L512,650 Z" fill="#e4e4f2"/>
<path d="M448,612 Q462,624 480,618 L480,630 Q462,636 448,626 Z M484,630 Q498,642 514,636 L514,648 Q498,654 484,644 Z" fill="#2e2a60"/>
<path d="M444,716 Q460,706 480,714 L482,728 Q460,742 444,734 Z" fill="#27305a"/>
<path d="M478,730 Q496,718 524,726 L526,740 Q500,756 478,746 Z" fill="#27305a"/>
<path d="M448,372 Q480,350 520,372 L524,470 Q484,490 446,470 Z" fill="#f4f4f8"/>
<path d="M448,440 Q470,456 496,448 L496,468 Q470,476 448,460 Z" fill="#2e2a60"/>
<path d="M508,455 Q524,466 538,460 L538,474 Q522,480 508,470 Z" fill="#2e2a60"/>
<ellipse cx="498" cy="310" rx="36" ry="40" fill="#f2f2f6"/>
<path d="M446,356 Q460,320 492,312 Q504,340 494,372 Q470,384 446,356 Z" fill="#2e2a60"/>
<circle cx="522" cy="326" r="8" fill="#2e2a60"/><circle cx="522" cy="326" r="3" fill="#f2f2f6"/>
<path d="M492,378 Q480,400 492,424" fill="none" stroke="#2e2a60" stroke-width="6"/>
<path d="M518,372 L600,400 Q614,408 606,424 L596,440 L512,398 Z" fill="#a6e2f2"/>
<path d="M580,410 Q600,396 612,412 Q612,430 596,442 Q578,436 580,410 Z" fill="#2e2a60"/>
<g fill="#2e2a60"><circle cx="535" cy="388" r="4"/><circle cx="552" cy="396" r="4"/><circle cx="566" cy="404" r="4"/><circle cx="540" cy="404" r="4"/></g>
</g>
</g>
<polygon points="251,269.4 274.3,292.8 251,316.2" fill="#6080bf"/>
<polygon points="491,269.4 514.3,292.8 491,316.2" fill="#6080bf"/>
<polygon points="366.3,551.3 397.4,574.8 366.3,598.3" fill="#6080bf"/>
<rect x="38.90" y="161.90" width="207.4" height="40.2" rx="6" fill="#fff" stroke="#6080bf" stroke-width="2"/>
<path d="M79.90,160.90 h-35 a7,7 0 0 0 -7,7 v28.2 a7,7 0 0 0 7,7 h35 z" fill="#6080bf"/>
<rect x="276.30" y="161.90" width="207.4" height="40.2" rx="6" fill="#fff" stroke="#6080bf" stroke-width="2"/>
<path d="M317.30,160.90 h-35 a7,7 0 0 0 -7,7 v28.2 a7,7 0 0 0 7,7 h35 z" fill="#6080bf"/>
<rect x="513.70" y="161.90" width="207.4" height="40.2" rx="6" fill="#fff" stroke="#6080bf" stroke-width="2"/>
<path d="M554.70,160.90 h-35 a7,7 0 0 0 -7,7 v28.2 a7,7 0 0 0 7,7 h35 z" fill="#6080bf"/>
<rect x="142.90" y="446.40" width="207.4" height="40.2" rx="6" fill="#fff" stroke="#6080bf" stroke-width="2"/>
<path d="M183.90,445.40 h-35 a7,7 0 0 0 -7,7 v28.2 a7,7 0 0 0 7,7 h35 z" fill="#6080bf"/>
<rect x="408.40" y="446.40" width="207.4" height="40.2" rx="6" fill="#fff" stroke="#6080bf" stroke-width="2"/>
<path d="M449.40,445.40 h-35 a7,7 0 0 0 -7,7 v28.2 a7,7 0 0 0 7,7 h35 z" fill="#6080bf"/>
</svg>
<div class="num" style="left:37.9px;top:160.8px"><span class="one">1</span></div>
<div class="lbl" style="left:90.0px;top:163.3px;letter-spacing:0.45px">目的を整理</div>
<div class="num" style="left:275.3px;top:160.8px"><span>2</span></div>
<div class="lbl" style="left:326.0px;top:163.3px;letter-spacing:1.2px">業務可視化</div>
<div class="num" style="left:512.7px;top:160.8px"><span>3</span></div>
<div class="lbl" style="left:566.0px;top:163.3px;letter-spacing:-0.15px">ツール選定</div>
<div class="num" style="left:141.9px;top:445.3px"><span>4</span></div>
<div class="lbl" style="left:207.5px;top:447.8px;letter-spacing:1.06px">試行導入</div>
<div class="num" style="left:407.4px;top:445.3px"><span>5</span></div>
<div class="lbl" style="left:460.0px;top:447.8px;letter-spacing:0.4px">運用・改善</div>
<div class="cap" style="left:37.0px;top:365.8px;letter-spacing:-0.14px">何を自動化するか</div>
<div class="cap" style="left:285.5px;top:350.2px;letter-spacing:0.64px">手順・ルールを</div>
<div class="cap" style="left:353.5px;top:381.4px;letter-spacing:-0.2px">整理</div>
<div class="cap" style="left:527.5px;top:365.8px;letter-spacing:0.22px">業務に合う</div>
<div class="cap" style="left:172.5px;top:662.1px;letter-spacing:-0.8px">小さく始める</div>
<div class="cap" style="left:422.0px;top:662.1px;letter-spacing:0.53px">定期的に見直す</div>
<div class="rpa2" style="left:668px;top:365px">RPA</div>
<svg class="abs" style="left:590px;top:726px" width="48" height="48" viewBox="-126.67 -126.67 1013.33 1013.33">
<defs><filter id="glow" x="-40%" y="-40%" width="180%" height="180%"><feGaussianBlur stdDeviation="42"/></filter></defs>
<g filter="url(#glow)" opacity=".9">
<circle cx="360" cy="400" r="265" fill="#fff"/>
<polygon points="205,88 402,162 292,328" fill="#fff" stroke="#fff" stroke-width="60" stroke-linejoin="round"/>
</g>
<circle cx="360" cy="400" r="190" fill="#cde9f1"/>
<path d="M452,205.6 A215,215 0 1 1 269.1,205.1" fill="none" stroke="#e8392a" stroke-width="82" stroke-linecap="butt"/>
<polygon points="218,100 392,166 292,316" fill="#e8392a" stroke="#e8392a" stroke-width="26" stroke-linejoin="round"/>
<ellipse cx="282" cy="400" rx="32" ry="48" fill="#111"/><ellipse cx="440" cy="400" rx="32" ry="48" fill="#111"/>
<path d="M305,495 Q362,545 422,495" fill="none" stroke="#111" stroke-width="26" stroke-linecap="round"/>
</svg>
<div class="logo">FULLTIME</div>
</body>
</html>
